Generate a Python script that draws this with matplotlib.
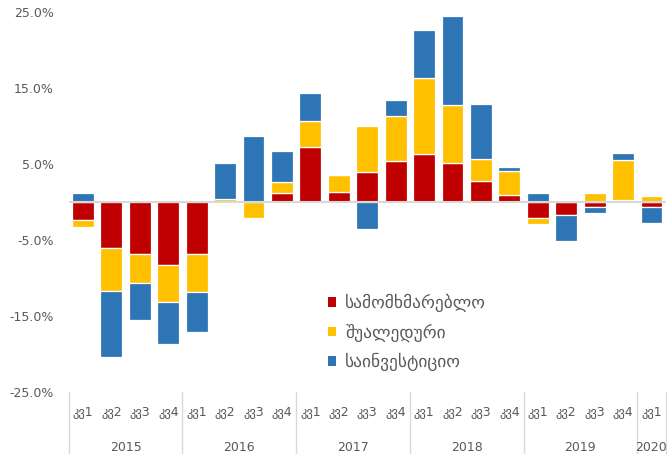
import numpy as np
import matplotlib
matplotlib.use("Agg")
import matplotlib.pyplot as plt
from matplotlib.patches import Patch
from matplotlib.lines import Line2D
import matplotlib.transforms as mtransforms

plt.rcParams['font.family'] = ['DejaVu Sans']

# Quarterly contributions to growth (percentage points)
years = ["2015", "2016", "2017", "2018", "2019", "2020"]
quarters_per_year = [4, 4, 4, 4, 4, 1]
quarter_names = ["კვ1", "კვ2", "კვ3", "კვ4"]

series_names = ["სამომხმარებლო", "შუალედური", "საინვესტიციო"]
consumer = [-2.38, -6.13, -6.88, -8.33, -6.84, 0.0, 0.0, 1.10,
            7.24, 1.23, 3.87, 5.30, 6.28, 5.09, 2.76, 0.88,
            -2.18, -1.79, -0.74, 0.25, -0.74]
intermediate = [-0.95, -5.62, -3.82, -4.83, -5.00, 0.40, -2.10, 1.53,
                3.42, 2.32, 6.13, 5.96, 10.00, 7.67, 2.89, 3.20,
                -0.75, 0.0, 1.10, 5.26, 0.80]
investment = [1.18, -8.72, -4.87, -5.57, -5.26, 4.74, 8.68, 4.08,
              3.64, 0.0, -3.63, 2.15, 6.32, 11.71, 7.24, 0.45,
              1.18, -3.34, -0.75, 0.92, -2.07]

colors = ["#C00000", "#FFC000", "#2E75B6"]
text_color = "#595959"

fig = plt.figure(figsize=(6.67, 4.54), dpi=100)
ax = fig.add_axes([68.8 / 667, 1 - 391.7 / 454, (665.7 - 68.8) / 667, 380 / 454])

n = len(consumer)
x = np.arange(n)
pos_base = np.zeros(n)
neg_base = np.zeros(n)
for vals, col in zip([consumer, intermediate, investment], colors):
    v = np.array(vals, dtype=float)
    bottoms = np.where(v >= 0, pos_base, neg_base)
    ax.bar(x, v, bottom=bottoms, width=0.77, color=col,
           edgecolor="white", linewidth=0.9, zorder=2)
    pos_base += np.where(v > 0, v, 0)
    neg_base += np.where(v < 0, v, 0)

ax.axhline(0, color="#D9D9D9", linewidth=1.5, zorder=3)

ax.set_xlim(-0.5, n - 0.5)
ax.set_ylim(-25, 25)
ax.set_yticks(np.arange(-25, 26, 10))
ax.set_yticklabels([f"{t:.1f}%" for t in np.arange(-25, 26, 10)])
ax.tick_params(axis="y", length=0, pad=11, labelsize=9, labelcolor=text_color)
ax.set_xticks([])
for s in ax.spines.values():
    s.set_visible(False)

# Two-level category axis: quarters and years
trans = mtransforms.blended_transform_factory(ax.transData, ax.transAxes)
idx = 0
bounds = [-0.5]
for yr, nq in zip(years, quarters_per_year):
    for q in range(nq):
        ax.text(idx + q, -0.056, quarter_names[q], transform=trans,
                ha="center", va="center", fontsize=9, color=text_color)
    ax.text(idx + (nq - 1) / 2, -0.148, yr, transform=trans,
            ha="center", va="center", fontsize=9, color=text_color)
    idx += nq
    bounds.append(idx - 0.5)
for b in bounds:
    ax.add_line(Line2D([b, b], [0, -0.17], transform=trans, color="#D9D9D9",
                       linewidth=1.0, clip_on=False))

handles = [Patch(facecolor=c, edgecolor="none") for c in colors]
leg = fig.legend(handles, series_names, loc="upper left",
                 bbox_to_anchor=(328 / 667, 1 - 294 / 454), frameon=False,
                 borderaxespad=0, borderpad=0,
                 fontsize=12.5, labelcolor=text_color, handlelength=0.45,
                 handleheight=0.45, handletextpad=0.55, labelspacing=0.64)

fig.savefig("out.png", dpi=100)
